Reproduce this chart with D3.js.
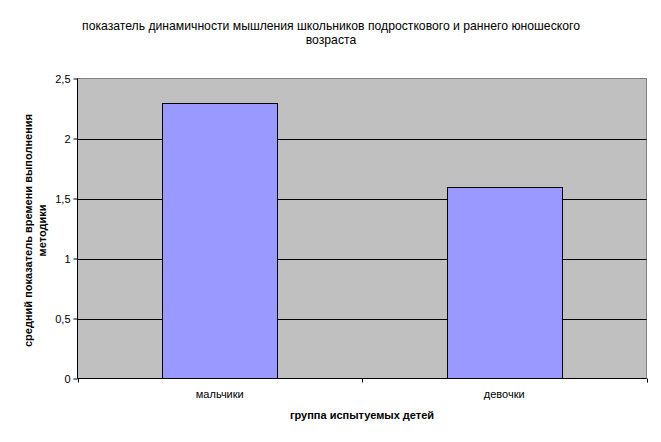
<!DOCTYPE html>
<html><head><meta charset="utf-8">
<script src="https://cdn.jsdelivr.net/npm/d3@7"></script>
<style>body{margin:0;background:#fff}svg{display:block}text{font-family:"Liberation Sans",Arial,sans-serif}</style>
</head><body>
<svg id="c" width="661" height="442"></svg>
<script>
const categories = ["мальчики", "девочки"];
const values = [2.3, 1.6];
const yTicks = [0, 0.5, 1, 1.5, 2, 2.5];
const titleLines = ["показатель динамичности мышления школьников подросткового и раннего юношеского", "возраста"];
const yTitleLines = ["средний показатель времени выполнения", "методики"];
const xTitle = "группа испытуемых детей";

const svg = d3.select("#c");
const L = 77.5, R = 646.5, T = 78.5, B = 378.5;
const x = d3.scaleBand().domain(categories).range([L, R]).padding(0);
const y = d3.scaleLinear().domain([0, 2.5]).range([B, T]);
const fmt = d => String(d).replace(".", ",");

// plot background
svg.append("rect").attr("x", L).attr("y", T).attr("width", R - L).attr("height", B - T)
  .attr("fill", "#C0C0C0").attr("stroke", "#808080").attr("stroke-width", 1);

// gridlines
svg.append("g").selectAll("line").data(yTicks.filter(d => d > 0 && d < 2.5)).join("line")
  .attr("x1", L).attr("x2", R).attr("y1", d => Math.round(y(d)) + 0.5).attr("y2", d => Math.round(y(d)) + 0.5)
  .attr("stroke", "#000").attr("stroke-width", 1);

// bars
const bw = x.bandwidth() * 0.404;
svg.append("g").selectAll("rect").data(values).join("rect")
  .attr("x", (d, i) => Math.round(x(categories[i]) + x.bandwidth() / 2 - bw / 2) + 0.5)
  .attr("y", d => Math.round(y(d)) + 0.5)
  .attr("width", Math.round(bw))
  .attr("height", d => Math.round(B - 0.5) - Math.round(y(d)))
  .attr("fill", "#9999FF").attr("stroke", "#000").attr("stroke-width", 1);

// y axis
const yAxis = d3.axisLeft(y).tickValues(yTicks).tickFormat(fmt).tickSize(4).tickPadding(3);
const gy = svg.append("g").attr("transform", `translate(${L},0)`).call(yAxis);
gy.select(".domain").attr("stroke", "#000").attr("d", `M0,${T}V${B}`);
gy.selectAll(".tick line").attr("stroke", "#000");
gy.selectAll(".tick text").attr("font-size", 11).attr("fill", "#000").style("font-family", '"Liberation Sans",Arial,sans-serif');

// x axis
const gx = svg.append("g").attr("transform", `translate(0,${B})`);
gx.append("line").attr("x1", L).attr("x2", R).attr("stroke", "#000");
const bounds = [L, x(categories[1]), R];
gx.selectAll("line.tk").data(bounds).join("line").attr("class", "tk")
  .attr("x1", d => Math.round(d) + 0.5).attr("x2", d => Math.round(d) + 0.5).attr("y1", 0).attr("y2", 4).attr("stroke", "#000");
gx.selectAll("text").data(categories).join("text")
  .attr("x", d => x(d) + x.bandwidth() / 2).attr("y", 19).attr("text-anchor", "middle")
  .attr("font-size", 11).attr("fill", "#000").text(d => d);

// x title
svg.append("text").attr("x", (L + R) / 2).attr("y", 419).attr("text-anchor", "middle")
  .attr("font-size", 11).attr("font-weight", "bold").text(xTitle);

// y title
const yt = svg.append("text").attr("transform", `translate(0,${(T + B) / 2 + 2}) rotate(-90)`)
  .attr("text-anchor", "middle").attr("font-size", 11).attr("font-weight", "bold");
yTitleLines.forEach((t, i) => yt.append("tspan").attr("x", 0).attr("y", 32 + i * 14).text(t));

// title
const tt = svg.append("text").attr("text-anchor", "middle").attr("font-size", 12.2);
titleLines.forEach((t, i) => tt.append("tspan").attr("x", 331).attr("y", 30 + i * 13.5).text(t));
</script>
</body></html>
